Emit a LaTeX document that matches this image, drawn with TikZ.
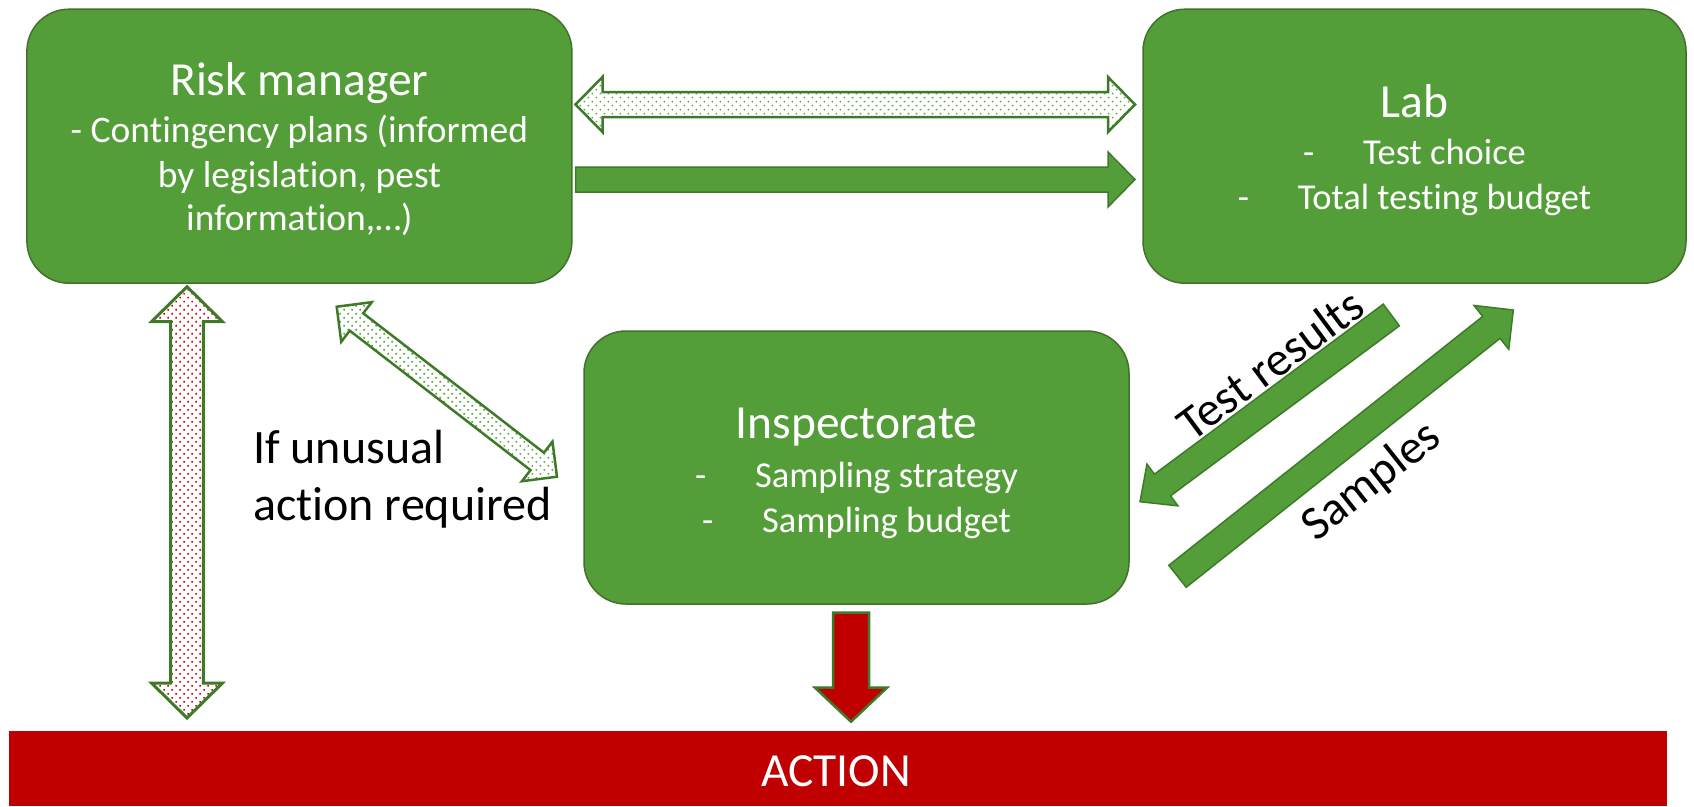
\documentclass[tikz,border=0pt]{standalone}
\usepackage{fontspec}
\setmainfont{Carlito}[Ligatures=NoCommon]
\usetikzlibrary{calc,patterns.meta}

\definecolor{boxgreen}{HTML}{549E39}
\definecolor{boxline}{HTML}{41712C}
\definecolor{arrowline}{HTML}{3E7A2A}
\definecolor{dotg}{HTML}{559F3A}
\definecolor{alarm}{HTML}{C00000}

% block arrow, one head: style, tail, tip, half shaft, half head, head length
\newcommand\blockarrow[6]{%
  \coordinate (ba-n) at ($(#3)!#6!(#2)$);
  \draw[#1] ($(#2)!#4!90:(#3)$) -- ($(ba-n)!#4!-90:(#2)$) -- ($(ba-n)!#5!-90:(#2)$)
    -- (#3) -- ($(ba-n)!#5!90:(#2)$) -- ($(ba-n)!#4!90:(#2)$)
    -- ($(#2)!#4!-90:(#3)$) -- cycle;}
% block arrow, two heads: style, end one, end two, half shaft, half head, head length
\newcommand\twinarrow[6]{%
  \coordinate (ta-n1) at ($(#2)!#6!(#3)$);
  \coordinate (ta-n2) at ($(#3)!#6!(#2)$);
  \draw[#1] (#2) -- ($(ta-n1)!#5!90:(#3)$) -- ($(ta-n1)!#4!90:(#3)$)
    -- ($(ta-n2)!#4!-90:(#2)$) -- ($(ta-n2)!#5!-90:(#2)$) -- (#3)
    -- ($(ta-n2)!#5!90:(#2)$) -- ($(ta-n2)!#4!90:(#2)$)
    -- ($(ta-n1)!#4!-90:(#3)$) -- ($(ta-n1)!#5!-90:(#3)$) -- cycle;}

\tikzset{
  box/.style={draw=boxline, line width=1.5pt, fill=boxgreen, rounded corners=42pt,
    minimum width=545pt, minimum height=274pt, inner sep=0pt},
  title/.style={anchor=base, text=white, inner sep=0pt, font=\fontsize{47.5}{56}\selectfont},
  item/.style={anchor=base, text=white, inner sep=0pt, font=\fontsize{36.5}{44}\selectfont},
  bigitem/.style={item, font=\fontsize{37.5}{44}\selectfont},
  caption/.style={inner sep=0pt, text=black, font=\fontsize{48}{57}\selectfont},
  greendotted/.style={draw=arrowline, line width=2.5pt,
    pattern={Dots[distance=5.66pt, angle=45, radius=1.1pt]}, pattern color=dotg},
  reddotted/.style={draw=arrowline, line width=3pt,
    pattern={Dots[distance=5.66pt, angle=45, radius=1.1pt]}, pattern color=alarm},
  solidgreen/.style={draw=arrowline, line width=1.5pt, fill=boxgreen},
  solidred/.style={draw=arrowline, line width=2.5pt, fill=alarm},
}
\newcommand\dashitem[1]{\makebox[60pt][l]{-}#1}

\begin{document}
\begin{tikzpicture}[x=1pt, y=-1pt]
\useasboundingbox (0,0) rectangle (1694,806);

% the three actors
\node[box] (rm) at (299.4,146.2) {};
\node[box, minimum width=543pt] (lab) at (1414.5,146.2) {};
\node[box, minimum height=273pt] (insp) at (856.5,467.5) {};

\node[title] (rm-t) at (299.4,95) {Risk manager};
\node[bigitem] (rm-1) at (299.4,142) {- Contingency plans (informed};
\node[bigitem] (rm-2) at (299.4,187) {by legislation, pest};
\node[bigitem] (rm-3) at (299.4,230) {information,…)};

\node[title] (lab-t) at (1414.5,117) {Lab};
\node[item] (lab-1) at (1414.5,164) {\dashitem{Test choice}};
\node[item] (lab-2) at (1414.5,209) {\dashitem{Total testing budget}};

\node[title] (insp-t) at (856.5,438) {Inspectorate};
\node[item] (insp-1) at (856.5,487) {\dashitem{Sampling strategy}};
\node[item] (insp-2) at (856.5,532) {\dashitem{Sampling budget}};

% action bar
\node[fill=alarm, minimum width=1658pt, minimum height=75pt, inner sep=0pt, anchor=north west] (act) at (9,731) {};
\node[anchor=base, inner sep=0pt, text=white, font=\fontsize{47.5}{56}\selectfont] (act-t) at (836,786) {ACTION};

% end points of the block arrows
\coordinate (rmlab-a) at (575.5,104.5);  \coordinate (rmlab-b) at (1135,104.5);
\coordinate (plan-a) at (575.5,179.5);   \coordinate (plan-b) at (1135,179.5);
\coordinate (esc-a) at (187,286.7);      \coordinate (esc-b) at (187,718);
\coordinate (diag-a) at (336.7,306.7);   \coordinate (diag-b) at (557,476.7);
\coordinate (res-a) at (1391.3,315);     \coordinate (res-b) at (1140,501.7);
\coordinate (smp-a) at (1177.5,576.3);   \coordinate (smp-b) at (1513.3,310);
\coordinate (act-a) at (851,612.7);      \coordinate (act-b) at (851,721.7);

\twinarrow{greendotted}{rmlab-a}{rmlab-b}{12.5pt}{27.5pt}{27pt}
\blockarrow{solidgreen}{plan-a}{plan-b}{12.5pt}{27.5pt}{27pt}
\twinarrow{reddotted}{esc-a}{esc-b}{16.3pt}{35.5pt}{35pt}
\twinarrow{greendotted}{diag-a}{diag-b}{11pt}{25pt}{25pt}
\blockarrow{solidgreen}{res-a}{res-b}{13.5pt}{26pt}{28pt}
\blockarrow{solidgreen}{smp-a}{smp-b}{14pt}{28pt}{28pt}
\blockarrow{solidred}{act-a}{act-b}{18pt}{36pt}{34pt}

% labels
\node[caption, anchor=base west] (unusual-1) at (253,463) {If unusual};
\node[caption, anchor=base west] (unusual-2) at (253,520) {action required};
\node[caption, rotate=36.6] (res-t) at (1270,364) {Test results};
\node[caption, rotate=38.4] (smp-t) at (1372,482) {Samples};
\end{tikzpicture}
\end{document}
